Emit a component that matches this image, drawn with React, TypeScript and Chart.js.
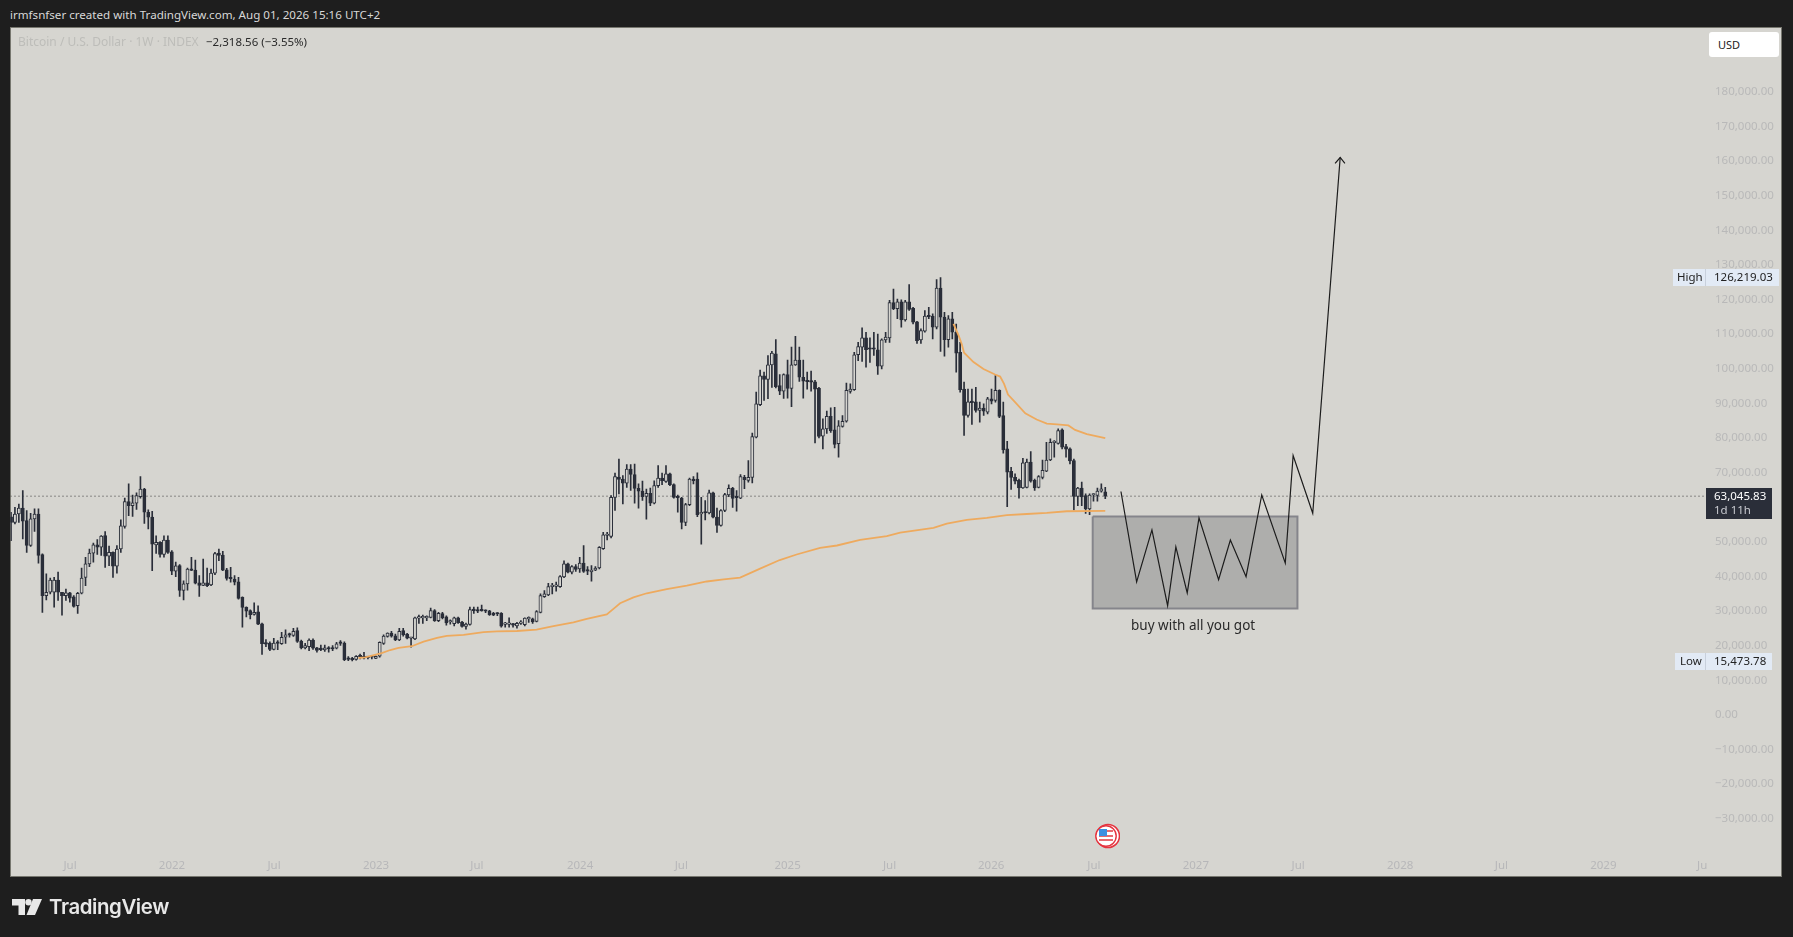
import React, { useEffect, useRef } from "react";
import { Chart, registerables } from "chart.js";

Chart.register(...registerables);

// Weekly candles, in thousands of USD: [open, high, low, close]
const candles2021 = [
  [57.1,58.4,50.2,55.5],[55.5,59.8,55.0,57.9],[57.9,60.8,55.5,59.6],[59.6,64.7,50.7,55.8],[56.0,58.9,46.8,48.8],
  [48.8,58.1,48.5,56.5],[56.5,59.4,52.9,57.9],[57.9,59.4,43.7,45.9],[46.2,46.4,29.5,34.3],[34.3,40.6,33.1,35.3],
  [35.3,39.4,34.8,38.8],[35.3,39.6,31.0,38.8],[38.8,41.1,32.9,35.3],[35.3,35.3,28.7,34.3],[34.3,36.2,32.9,35.1],
  [35.1,35.3,32.4,33.6],[34.0,34.3,31.0,31.2],[31.4,35.3,29.2,35.0],[35.0,42.3,34.8,39.4],[39.6,45.4,37.2,43.5],
  [43.5,47.8,42.7,46.6],[46.6,49.5,44.0,49.0],[49.0,50.5,46.2,48.3],[48.3,51.7,45.9,51.5],[51.7,52.8,42.5,45.7],
  [45.7,48.6,43.0,46.8],[46.8,47.0,39.6,42.8],[42.8,48.8,40.8,47.8],[47.8,56.2,46.8,54.5],[54.3,62.5,53.8,61.5],
  [61.5,66.6,57.4,60.3],[60.3,63.4,57.2,61.1],[61.0,64.0,59.2,63.2],[62.9,68.7,62.5,65.1],[65.1,65.3,55.2,58.4],
  [58.4,59.1,53.6,57.0],[57.0,58.7,41.5,49.2],[49.0,51.6,46.5,49.7],[49.7,49.9,45.4,46.2],[46.2,51.6,45.4,50.4],
  [50.4,51.6,46.5,46.8],
];
const candles2022 = [
  [47.0,47.3,40.4,41.4],[41.4,44.0,39.8,42.9],[43.0,43.3,34.1,35.8],[35.8,38.6,33.1,37.7],[37.7,42.3,35.9,42.0],
  [42.0,45.4,41.5,41.6],[41.7,44.6,37.7,37.9],[38.0,40.1,34.1,37.3],[37.3,44.9,37.2,38.0],[38.0,42.3,36.9,37.2],
  [37.4,42.0,37.2,40.8],[40.8,46.8,40.4,46.5],[46.6,47.8,44.4,45.9],[46.0,47.1,41.5,41.7],[41.8,42.2,38.8,39.3],
  [39.5,42.5,38.2,39.2],[39.1,40.1,37.4,38.2],[38.3,39.6,33.3,33.5],[33.8,34.0,25.2,30.9],[30.9,31.1,28.2,29.8],
  [30.0,30.2,27.6,28.8],[28.9,32.2,28.7,29.5],[29.6,31.4,25.9,26.1],[26.2,26.4,17.3,20.4],[20.6,21.6,19.6,20.3],
  [20.6,21.0,18.4,18.8],[18.8,22.0,18.6,20.6],[20.8,21.3,18.7,20.5],[20.4,23.7,20.2,22.3],[22.3,24.4,20.5,23.0],
  [23.0,23.5,22.3,22.9],[22.8,24.9,22.5,24.0],[24.2,25.0,20.8,21.1],[21.2,21.5,18.9,19.2],[19.2,20.5,18.9,19.9],
  [19.6,21.8,18.4,21.5],[21.5,21.8,18.8,19.1],[19.2,19.4,18.0,18.5],[18.9,20.0,18.4,18.7],[18.6,20.0,18.2,19.2],
  [19.1,19.6,18.0,18.9],[19.2,19.9,18.4,18.9],[19.1,20.8,18.9,20.4],[20.6,21.3,19.9,20.5],[20.6,21.0,15.5,15.8],
  [16.1,16.7,15.5,15.9],[16.0,16.5,15.47,15.8],[15.9,17.0,15.7,16.8],[16.8,17.4,16.0,16.6],[16.8,17.9,16.0,16.3],
  [16.6,16.8,16.0,16.4],[16.6,16.8,16.0,16.5],
];
const candles2023 = [
  [16.2,16.9,16.1,16.8],[16.8,21.0,16.5,20.8],[20.5,23.0,20.2,22.6],[22.5,23.6,22.3,23.5],[23.5,24.0,22.3,22.6],
  [22.7,23.2,21.3,21.5],[21.5,24.9,21.3,24.0],[24.2,24.9,22.6,23.0],[23.2,23.4,21.8,22.0],[22.0,22.3,19.4,22.2],
  [21.8,28.1,21.6,27.9],[27.8,28.7,26.3,28.0],[27.9,28.7,26.3,28.0],[27.9,28.5,27.1,28.2],[28.0,30.7,27.9,30.0],
  [30.0,30.3,26.9,27.1],[27.1,29.5,26.8,29.2],[29.1,29.5,27.6,27.9],[28.2,28.5,25.8,26.4],[26.7,27.3,26.1,26.9],
  [26.2,28.1,25.6,27.9],[27.9,28.1,26.3,26.5],[26.7,26.9,25.2,25.4],[25.4,26.4,24.6,26.1],[26.0,31.0,25.8,30.3],
  [30.2,31.0,29.2,30.0],[30.3,31.0,29.4,29.8],[30.1,31.6,29.8,29.9],[30.0,30.2,29.4,29.8],[29.9,30.1,28.6,28.8],
  [29.2,29.5,28.5,28.7],[29.2,29.4,28.5,29.0],[29.2,29.4,25.2,25.5],[26.0,26.6,25.2,26.1],[26.0,27.9,25.2,26.1],
  [25.9,26.3,25.2,25.8],[25.6,26.6,24.9,26.3],[26.3,27.1,26.0,26.5],[25.9,27.9,25.6,27.8],[27.6,28.2,26.6,27.7],
  [27.6,27.8,26.3,26.7],[26.9,30.0,26.7,29.7],[29.5,34.8,29.3,34.3],[34.0,35.8,33.8,34.8],[34.5,37.9,34.3,36.9],
  [36.9,37.9,34.8,37.1],[37.0,38.2,35.6,37.1],[36.9,40.1,36.7,39.8],[39.7,44.4,39.5,43.5],[43.5,43.7,40.9,41.1],
  [41.1,43.0,40.6,42.7],[42.7,43.3,41.3,41.9],
];
const candles2024 = [
  [42.0,45.4,41.0,43.7],[43.7,48.8,41.0,41.3],[41.5,42.7,40.4,41.4],[41.2,43.0,38.5,41.7],[41.7,42.7,41.5,42.3],
  [42.3,48.5,42.0,48.3],[47.9,52.6,47.7,51.9],[51.7,52.6,50.4,51.9],[51.4,63.2,51.0,62.7],[62.7,69.7,58.9,68.7],
  [68.6,73.8,63.7,67.9],[68.0,69.0,60.8,66.8],[66.8,72.2,65.6,70.9],[70.9,72.2,64.7,69.3],[69.3,72.3,61.0,65.3],
  [65.3,66.6,59.6,64.5],[64.5,67.4,61.8,62.9],[63.0,65.1,56.4,63.9],[63.9,65.4,60.3,61.0],[61.0,67.5,60.8,66.1],
  [66.1,71.9,65.6,68.3],[68.3,69.7,66.4,67.5],[67.3,71.9,67.0,69.5],[69.5,69.7,66.1,66.4],[66.4,66.6,62.5,62.7],
  [62.9,63.4,58.4,62.6],[62.5,62.7,53.6,55.5],[55.5,61.0,54.5,60.6],[60.6,68.3,60.3,68.0],[68.0,68.7,66.6,67.5],
  [68.0,69.8,57.1,57.7],[57.9,62.7,49.2,58.4],[58.3,61.8,56.2,58.2],[58.2,64.8,57.9,64.0],[64.0,64.2,56.8,57.0],
  [57.0,59.6,52.6,54.6],[54.6,59.2,54.4,58.9],[58.9,63.9,58.6,63.5],[63.4,66.3,62.9,65.3],[65.3,65.6,59.8,62.4],
  [62.7,64.7,58.7,62.6],[62.5,69.3,62.3,68.7],[68.5,69.1,65.2,67.8],[67.6,73.3,67.1,68.5],[68.5,81.3,66.9,80.3],
  [80.1,93.1,79.9,89.7],[89.5,99.5,89.2,97.8],[97.8,98.9,90.7,96.8],[96.8,103.7,91.2,101.0],[101.0,104.9,94.5,104.4],
  [104.2,108.3,94.3,94.7],[95.0,98.2,92.4,93.4],[93.4,98.4,91.3,98.2],
];
const candles2025 = [
  [98.2,102.4,91.4,94.2],[94.2,106.1,88.9,101.0],[101.0,109.2,100.8,102.4],[102.4,106.1,96.2,97.4],[97.4,102.4,91.4,96.3],
  [96.3,98.9,94.0,96.1],[96.1,99.2,93.4,96.0],[96.1,96.5,78.4,94.0],[94.2,94.5,79.9,80.3],[80.4,85.4,76.7,82.5],
  [82.5,87.6,81.2,86.1],[86.1,88.6,81.5,82.0],[82.2,88.7,77.0,78.0],[78.2,84.9,74.3,83.4],[83.2,86.3,83.0,84.7],
  [84.7,95.7,84.4,93.6],[93.3,95.5,92.8,94.0],[93.8,104.6,93.6,103.9],[103.9,107.5,102.2,106.3],[106.1,111.7,102.0,108.8],
  [108.8,110.4,100.3,105.4],[105.7,108.8,101.7,105.5],[105.7,110.4,103.7,105.5],[105.3,109.9,98.2,100.6],[100.6,108.5,99.8,108.2],
  [108.2,110.4,107.5,109.0],[108.8,119.6,107.5,119.0],[119.0,122.9,116.9,117.2],[117.2,120.0,114.3,119.2],[119.2,119.8,111.9,114.0],
  [114.0,119.6,113.6,119.2],[119.2,124.2,116.7,117.0],[117.3,117.6,112.8,113.3],[113.4,113.6,107.2,108.0],[108.2,111.4,107.2,110.9],
  [110.7,116.7,110.4,115.1],[115.1,117.6,114.3,114.9],[115.1,115.7,108.5,111.9],[111.9,125.6,111.4,123.2],[123.2,126.219,104.9,114.8],
  [114.8,116.2,103.5,108.3],[108.3,115.2,106.1,114.3],[114.3,116.2,108.5,110.4],[110.4,112.8,98.9,104.4],[104.6,107.5,93.1,93.8],
  [94.0,96.0,80.6,86.4],[86.4,94.0,85.9,90.3],[90.3,94.0,83.8,90.1],[90.3,94.5,87.3,87.8],[87.8,90.2,84.4,88.5],
  [88.5,89.7,86.4,87.6],[87.3,91.6,86.8,91.2],
];
const candles2026 = [
  [91.2,94.0,89.7,90.5],[90.7,97.9,90.2,93.6],[93.6,93.8,85.7,86.1],[86.3,90.2,75.5,76.4],[76.7,78.9,60.0,70.0],
  [70.2,71.4,65.0,68.5],[68.5,69.5,66.6,67.4],[67.6,68.0,62.5,65.4],[65.4,74.0,65.3,72.7],[65.6,73.8,65.4,72.9],
  [72.9,75.9,67.1,67.4],[67.6,68.0,64.7,65.4],[65.6,69.0,65.4,68.7],[68.5,73.5,68.0,70.5],[70.3,78.6,70.1,73.5],
  [73.5,79.6,73.3,78.6],[78.5,79.1,74.3,78.6],[78.3,82.5,78.1,82.0],[82.2,82.5,76.7,77.2],[77.4,78.0,74.3,76.6],
  [76.7,77.0,72.4,73.2],[73.3,73.8,59.1,63.0],[63.0,65.6,60.3,65.4],[65.4,67.1,60.3,62.8],[63.2,63.7,58.1,59.4],
  [59.4,63.7,57.7,63.4],[63.4,63.7,61.6,63.5],[63.3,65.4,61.6,64.5],[64.5,66.6,64.2,65.2],[64.3,65.6,62.3,63.04583],
];

// Lower orange average: [week, price in thousands]
const lowerAverage = [
  [88.6,16.3],[90.3,16.5],[94.5,17.7],[96.7,18.6],[98.8,19.2],[102.2,19.7],[105.2,21.0],[108.6,22.1],[111.1,22.7],
  [115.4,23.0],[120.5,23.8],[123.9,24.0],[129,24.1],[134,24.5],[138.3,25.5],[143.4,26.6],[146.8,27.6],[151.9,28.9],
  [153.6,30.5],[155.3,32.1],[158.7,33.8],[162.1,35.0],[167.2,36.2],[172.3,37.2],[177.4,38.4],[181.7,39.0],[185.9,39.5],
  [191,42.1],[196,44.6],[200.3,46.2],[206.3,48.1],[210.6,48.8],[216.5,50.4],[223.3,51.5],[226.7,52.5],[235.2,53.9],
  [238.6,55.1],[243.7,56.2],[248.8,56.8],[253.9,57.6],[259,57.9],[264.1,58.2],[269.2,58.7],[279,58.8],
];
// Upper orange average: [week, price in thousands]
const upperAverage = [
  [240.3,112.8],[241.6,109.5],[242.4,107.0],[243,104.5],[245.4,101.8],[247.95,99.8],[250.9,98.2],[252.2,97.6],
  [253.2,95.5],[254.2,92.4],[256,90.2],[258.6,87.0],[261.5,85.2],[264.1,84.0],[266.7,83.8],[269.6,83.5],[271.3,82.2],
  [274.3,81.0],[279,79.8],
];
// Hand-drawn projection: [week, price in thousands]
const projection = [
  [283,64.4],[287,38.3],[290.9,53.3],[294.9,31.4],[297,48.4],[299.9,35.1],[302.9,56.8],[307.9,38.9],[310.9,50.4],
  [314.9,39.8],[318.9,63.4],[324.9,43.7],[326.9,74.8],[331.9,58.1],[338.9,160.9],
];
const arrowHead = [[337.6,159.2],[338.9,160.9],[340.1,159.2]];
const buyZone = [[275.8,57.2],[328,57.2],[328,30.6],[275.8,30.6],[275.8,57.2]];
const buyLabel = { week: 301.4, price: 25.4, text: "buy with all you got" };

const lastPrice = 63045.83;
const yTicks = [180,170,160,150,140,130,120,110,100,90,80,70,60,50,40,30,20,10,0,-10,-20,-30];
const xTickWeeks = [15.04,41.05,67.06,93.07,118.8,145.1,170.9,198,224,249.9,276.1,302.1,328.2,354.2,380,406,431.2];
const xTickLabels = ["Jul","2022","Jul","2023","Jul","2024","Jul","2025","Jul","2026","Jul","2027","Jul","2028","Jul","2029","Ju"];

const FONT = '"Noto Sans", sans-serif';
const PANE = "#d6d5d0";
const DARK = "#2a2e39";
const ORANGE = "#eeaa5e";

const candles = [...candles2021, ...candles2022, ...candles2023, ...candles2024, ...candles2025, ...candles2026];
const pts = (a: number[][]) => a.map(([x, y]) => ({ x, y: y * 1000 }));

const fmt = (v: number) => {
  const s = Math.abs(v).toLocaleString("en-US", { minimumFractionDigits: 2, maximumFractionDigits: 2 });
  return (v < 0 ? "\u2212" : "") + s;
};

const labelPlugin = {
  id: "buyLabel",
  afterDatasetsDraw(chart: any) {
    const { ctx, scales } = chart;
    ctx.save();
    ctx.font = `13.5px ${FONT}`;
    ctx.fillStyle = "#2a2a2a";
    ctx.textAlign = "center";
    ctx.textBaseline = "middle";
    ctx.fillText(buyLabel.text, scales.x.getPixelForValue(buyLabel.week), scales.y.getPixelForValue(buyLabel.price * 1000));
    ctx.restore();
  },
};

const abs = (l: number, t: number, w: number, h: number): React.CSSProperties => ({
  position: "absolute", left: l, top: t, width: w, height: h,
});
const txt = (l: number, cy: number, size: number, color: string, extra: React.CSSProperties = {}): React.CSSProperties => ({
  position: "absolute", left: l, top: cy - 10, height: 20, lineHeight: "20px", fontSize: size, color, whiteSpace: "nowrap", ...extra,
});

export default function App() {
  const ref = useRef<HTMLCanvasElement | null>(null);
  useEffect(() => {
    document.body.style.margin = "0";
    document.body.style.background = "#1e1e1e";
    const chart = new Chart(ref.current as HTMLCanvasElement, {
      type: "bar",
      data: {
        datasets: [
          {
            type: "line", label: "Last price", order: 5,
            data: [{ x: -0.13, y: lastPrice }, { x: 433.7, y: lastPrice }],
            borderColor: "#3a3a3a", borderWidth: 1, borderDash: [1, 3], pointRadius: 0,
          },
          {
            type: "line", label: "Buy zone", order: 4, data: pts(buyZone), fill: "shape",
            backgroundColor: "#aeaeac", borderColor: "#85858b", borderWidth: 2, pointRadius: 0, tension: 0,
          },
          {
            type: "bar", label: "Wick", order: 3, grouped: false, barThickness: 1,
            data: candles.map((c, i) => ({ x: i, y: [c[2] * 1000, c[1] * 1000] })),
            backgroundColor: DARK, borderWidth: 0,
          },
          {
            type: "bar", label: "Body", order: 2, grouped: false, barThickness: 3.2, minBarLength: 1.5,
            data: candles.map((c, i) => ({ x: i, y: [Math.min(c[0], c[3]) * 1000, Math.max(c[0], c[3]) * 1000] })),
            backgroundColor: candles.map((c) => (c[3] >= c[0] ? PANE : DARK)),
            borderColor: DARK, borderWidth: 1, borderSkipped: false,
          },
          { type: "line", label: "Lower average", order: 1, data: pts(lowerAverage), borderColor: ORANGE, borderWidth: 1.8, pointRadius: 0 },
          { type: "line", label: "Upper average", order: 1, data: pts(upperAverage), borderColor: ORANGE, borderWidth: 1.8, pointRadius: 0 },
          { type: "line", label: "Projection", order: 0, data: pts(projection), borderColor: "#1c1c1c", borderWidth: 1.2, pointRadius: 0 },
          { type: "line", label: "Arrow", order: 0, data: pts(arrowHead), borderColor: "#1c1c1c", borderWidth: 1.2, pointRadius: 0 },
        ] as any,
      },
      options: {
        responsive: false,
        animation: false,
        devicePixelRatio: 1,
        events: [],
        layout: { padding: { left: 10.5, top: 27, right: 11, bottom: 61 } },
        plugins: { legend: { display: false }, tooltip: { enabled: false } },
        scales: {
          x: {
            type: "linear", offset: false, min: -0.13, max: 433.7,
            grid: { display: false, drawTicks: false }, border: { display: false },
            afterBuildTicks: (s: any) => { s.ticks = xTickWeeks.map((value) => ({ value })); },
            afterFit: (s: any) => { s.height = 21; },
            ticks: {
              autoSkip: false, maxRotation: 0, minRotation: 0, padding: 3.4,
              color: "#b7b7b9", font: { family: FONT, size: 11.5 },
              callback: (v: any) => xTickLabels[xTickWeeks.indexOf(Number(v))] ?? "",
            },
          },
          y: {
            type: "linear", position: "right", min: -40620, max: 198600,
            grid: { display: false, drawTicks: false }, border: { display: false },
            afterBuildTicks: (s: any) => { s.ticks = yTicks.map((v) => ({ value: v * 1000 })); },
            afterFit: (s: any) => { s.width = 70; },
            ticks: {
              autoSkip: false, padding: 3, labelOffset: 0.5,
              color: "#b9b9b9", font: { family: FONT, size: 11.5 },
              callback: (v: any) => fmt(Number(v)),
            },
          },
        },
      } as any,
      plugins: [labelPlugin],
    });
    return () => chart.destroy();
  }, []);

  return (
    <div style={{ position: "absolute", left: 0, top: 0, width: 1793, height: 937, background: "#1e1e1e", fontFamily: FONT, overflow: "hidden" }}>
      <div style={txt(10, 14.7, 11.6, "#d8d8d8")}>irmfsnfser created with TradingView.com, Aug 01, 2026 15:16 UTC+2</div>
      <div style={{ ...abs(10, 27, 1772, 850), background: PANE, boxShadow: "inset 0 0 0 1px #77776f" }} />
      <canvas ref={ref} width={1793} height={937} style={{ ...abs(0, 0, 1793, 937), display: "block" }} />
      <div style={txt(18, 41.7, 12, "#bdbdb9")}>Bitcoin / U.S. Dollar · 1W · INDEX</div>
      <div style={txt(206, 41.7, 11.5, "#2a2a2a")}>−2,318.56 (−3.55%)</div>
      <div style={{ ...abs(1709, 32, 70, 25), background: "#fff", borderRadius: 3 }} />
      <div style={txt(1718, 44.5, 11, "#222")}>USD</div>

      <div style={{ ...abs(1673, 268.5, 106, 17.5), background: "#e2eaf5" }} />
      <div style={{ ...abs(1705, 268.5, 1, 17.5), background: "#c8d0dc" }} />
      <div style={txt(1677, 277, 11.5, "#222")}>High</div>
      <div style={txt(1714, 277, 11.5, "#222")}>126,219.03</div>

      <div style={{ ...abs(1706, 488, 66, 31), background: DARK }} />
      <div style={txt(1714, 495.5, 11.5, "#ffffff")}>63,045.83</div>
      <div style={txt(1714, 509.5, 11.5, "#c9cbd1")}>1d 11h</div>

      <div style={{ ...abs(1675, 652.5, 97, 17.5), background: "#e2eaf5" }} />
      <div style={{ ...abs(1705, 652.5, 1, 17.5), background: "#c8d0dc" }} />
      <div style={txt(1680, 661, 11.5, "#222")}>Low</div>
      <div style={txt(1714, 661, 11.5, "#222")}>15,473.78</div>

      <svg width={26} height={26} viewBox="0 0 26 26" style={abs(1094, 823, 26, 26)}>
        <circle cx={14} cy={13} r={11.5} fill="#fff" stroke="#e5343f" strokeWidth={1.6} />
        <circle cx={12} cy={13} r={10.2} fill="#fff" stroke="#e5343f" strokeWidth={1.4} />
        <rect x={5} y={12} width={14} height={2} fill="#e86a6f" />
        <rect x={5} y={16} width={14} height={2} fill="#e86a6f" />
        <rect x={6} y={7} width={13} height={2} fill="#e86a6f" />
        <rect x={5} y={6} width={8} height={7} fill="#3d8fe0" />
      </svg>

      <svg width={30} height={17} viewBox="0 0 30 17" style={abs(12, 898.5, 30, 17)}>
        <path d="M0 0H13V16H6.5V6.5H0Z M21 0 L30 0 L23 16 L14.5 16Z" fill="#e8e8e8" />
        <circle cx={16.5} cy={3.2} r={3.2} fill="#e8e8e8" />
      </svg>
      <div style={{ ...txt(49, 906.5, 20.4, "#e8e8e8"), fontFamily: "Inter, sans-serif", fontWeight: 600, letterSpacing: -0.4 }}>TradingView</div>
    </div>
  );
}
